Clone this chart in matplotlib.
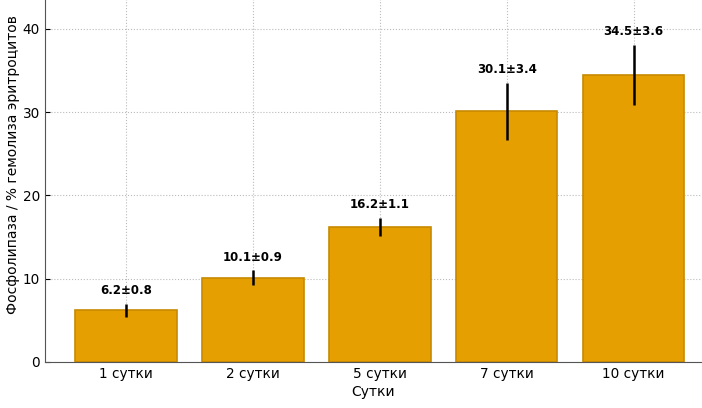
import matplotlib
matplotlib.use('agg')
from matplotlib import pyplot as plt

days = ['1 сутки', '2 сутки', '5 сутки', '7 сутки', '10 сутки']
means = [6.2, 10.1, 16.2, 30.1, 34.5]
errors = [0.8, 0.9, 1.1, 3.4, 3.6]

plt.rcParams['font.family'] = ['DejaVu Sans']

fig = plt.figure(figsize=(7.02, 4.08), dpi=100)
# the axes top runs a little past the top edge of the figure, as in the reference crop
ax = fig.add_axes([0.064, 0.113, 0.936, 0.965])

x = list(range(len(days)))
ax.bar(x, means, width=0.8, color='#E69F00', edgecolor='#C88A00', linewidth=1.2, zorder=2)
ax.errorbar(x, means, yerr=errors, fmt='none', ecolor='black', elinewidth=1.8, capsize=0, zorder=3)

for xi, m, e in zip(x, means, errors):
    ax.text(xi, m + e + 0.8, f'{m}±{e}', ha='center', va='bottom',
            fontsize=8.5, fontweight='bold', zorder=4)

ax.set_xticks(x)
ax.set_xticklabels(days)
ax.set_xlim(-0.64, 4.54)
ax.set_ylim(0, 47.3)
ax.set_yticks([0, 10, 20, 30, 40])
ax.tick_params(direction='in', labelsize=9.8)
ax.grid(True, linestyle=':', color='#bbbbbb', linewidth=0.8, zorder=0)
ax.set_axisbelow(True)
for side in ['top', 'right']:
    ax.spines[side].set_visible(False)
for side in ['left', 'bottom']:
    ax.spines[side].set_color('#555555')

ax.set_xlabel('Сутки', fontsize=10, labelpad=3)
ax.set_ylabel('Фосфолипаза / % гемолиза эритроцитов', fontsize=10, labelpad=2)

fig.savefig('out.png', dpi=100)
